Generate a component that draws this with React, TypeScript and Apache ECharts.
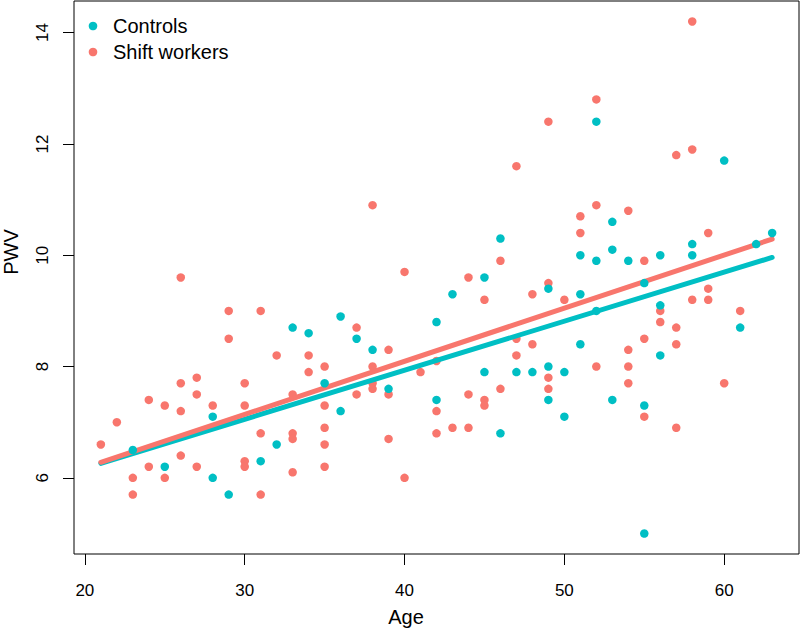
import React, { useEffect, useRef } from "react";
import * as echarts from "echarts";

const controlAge = [23, 25, 28, 28, 29, 31, 32, 33, 34, 35, 36, 36, 37, 38, 39, 42, 42, 43, 45, 45, 46, 46, 47, 48, 49, 49, 49, 50, 50, 51, 51, 51, 52, 52, 52, 53, 53, 53, 54, 55, 55, 55, 56, 56, 56, 58, 58, 60, 61, 62, 63];
const controlPwv = [6.5, 6.2, 7.1, 6.0, 5.7, 6.3, 6.6, 8.7, 8.6, 7.7, 8.9, 7.2, 8.5, 8.3, 7.6, 8.8, 7.4, 9.3, 9.6, 7.9, 10.3, 6.8, 7.9, 7.9, 9.4, 8.0, 7.4, 7.9, 7.1, 10.0, 9.3, 8.4, 12.4, 9.9, 9.0, 10.6, 10.1, 7.4, 9.9, 9.5, 7.3, 5.0, 10.0, 9.1, 8.2, 10.2, 10.0, 11.7, 8.7, 10.2, 10.4];

const shiftAge = [21, 22, 23, 23, 24, 24, 25, 25, 26, 26, 26, 26, 27, 27, 27, 28, 29, 29, 30, 30, 30, 30, 31, 31, 31, 32, 33, 33, 33, 33, 34, 34, 35, 35, 35, 35, 35, 37, 37, 38, 38, 38, 38, 39, 39, 39, 40, 40, 41, 42, 42, 42, 43, 44, 44, 44, 45, 45, 45, 46, 46, 47, 47, 47, 48, 48, 49, 49, 49, 49, 50, 51, 51, 52, 52, 52, 54, 54, 54, 54, 55, 55, 55, 56, 56, 57, 57, 57, 57, 58, 58, 58, 59, 59, 59, 60, 61];
const shiftPwv = [6.6, 7.0, 6.0, 5.7, 7.4, 6.2, 7.3, 6.0, 9.6, 7.7, 7.2, 6.4, 7.8, 7.5, 6.2, 7.3, 9.0, 8.5, 7.7, 7.3, 6.3, 6.2, 9.0, 6.8, 5.7, 8.2, 7.5, 6.8, 6.7, 6.1, 8.2, 7.9, 8.0, 7.3, 6.9, 6.6, 6.2, 8.7, 7.5, 10.9, 8.0, 7.7, 7.6, 8.3, 7.5, 6.7, 9.7, 6.0, 7.9, 8.1, 7.2, 6.8, 6.9, 9.6, 7.5, 6.9, 9.2, 7.4, 7.3, 9.9, 7.6, 11.6, 8.5, 8.2, 9.3, 8.4, 12.4, 9.5, 7.8, 7.6, 9.2, 10.7, 10.4, 12.8, 10.9, 8.0, 10.8, 8.3, 8.0, 7.7, 9.9, 8.5, 7.1, 9.0, 8.8, 11.8, 8.7, 8.4, 6.9, 14.2, 11.9, 9.2, 10.4, 9.4, 9.2, 7.7, 9.0];

// fitted lines (endpoints)
const fitAge = [21, 63];
const controlFit = [6.26, 9.96];
const shiftFit = [6.28, 10.29];

const xTicks = [20, 30, 40, 50, 60];
const yTicks = [6, 8, 10, 12, 14];

const legendNames = ["Controls", "Shift workers"];

const TEAL = "#00BFC4";
const SALMON = "#F8766D";
const FONT = "'Liberation Sans', Arial, Helvetica, sans-serif";

export default function App() {
  const ref = useRef<HTMLDivElement>(null);
  useEffect(() => {
    if (!ref.current) return;
    const chart = echarts.init(ref.current, null, { renderer: "svg" });
    const ctrl = controlAge.map((a, i) => [a, controlPwv[i]]);
    const shift = shiftAge.map((a, i) => [a, shiftPwv[i]]);
    const legendColors = [TEAL, SALMON];
    const legendGraphics: any[] = [];
    legendNames.forEach((name, i) => {
      legendGraphics.push({
        type: "circle",
        shape: { cx: 93, cy: 26 + i * 26, r: 4.3 },
        style: { fill: legendColors[i] },
      });
      legendGraphics.push({
        type: "text",
        x: 113,
        y: 26 + i * 26,
        style: {
          text: name,
          fontSize: 20,
          fontFamily: FONT,
          fill: "#000",
          textAlign: "left",
          textVerticalAlign: "middle",
        },
      });
    });
    chart.setOption({
      animation: false,
      backgroundColor: "#ffffff",
      textStyle: { fontFamily: FONT },
      grid: {
        left: 74,
        right: 1,
        top: 1,
        bottom: 75,
        show: true,
        borderColor: "#000000",
        borderWidth: 1,
        backgroundColor: "transparent",
      },
      xAxis: {
        type: "value",
        min: 19.32,
        max: 64.68,
        axisLine: { show: false },
        splitLine: { show: false },
        axisTick: {
          show: true,
          length: 11,
          inside: false,
          customValues: xTicks,
          lineStyle: { color: "#000", width: 1 },
        },
        axisLabel: {
          customValues: xTicks,
          fontSize: 17,
          color: "#000",
          margin: 28,
          fontFamily: FONT,
        },
      },
      yAxis: {
        type: "value",
        min: 4.632,
        max: 14.568,
        axisLine: { show: false },
        splitLine: { show: false },
        axisTick: {
          show: true,
          length: 11,
          inside: false,
          customValues: yTicks,
          lineStyle: { color: "#000", width: 1 },
        },
        axisLabel: {
          customValues: yTicks,
          fontSize: 17,
          color: "#000",
          rotate: 90,
          margin: 23,
          fontFamily: FONT,
        },
      },
      graphic: [
        ...legendGraphics,
        {
          type: "text",
          x: 406,
          y: 617,
          style: {
            text: "Age",
            fontSize: 20,
            fontFamily: FONT,
            fill: "#000",
            textAlign: "center",
            textVerticalAlign: "middle",
          },
        },
        {
          type: "text",
          x: 11,
          y: 252,
          rotation: Math.PI / 2,
          style: {
            text: "PWV",
            fontSize: 20,
            fontFamily: FONT,
            fill: "#000",
            textAlign: "center",
            textVerticalAlign: "middle",
          },
        },
      ],
      series: [
        {
          name: "Shift workers",
          type: "scatter",
          data: shift,
          symbol: "circle",
          symbolSize: 8.5,
          itemStyle: { color: SALMON, opacity: 1 },
          z: 1,
        },
        {
          name: "Controls fit",
          type: "line",
          data: fitAge.map((a, i) => [a, controlFit[i]]),
          showSymbol: false,
          symbol: "none",
          lineStyle: { color: TEAL, width: 5, cap: "round" },
          z: 2,
        },
        {
          name: "Shift workers fit",
          type: "line",
          data: fitAge.map((a, i) => [a, shiftFit[i]]),
          showSymbol: false,
          symbol: "none",
          lineStyle: { color: SALMON, width: 5, cap: "round" },
          z: 3,
        },
        {
          name: "Controls",
          type: "scatter",
          data: ctrl,
          symbol: "circle",
          symbolSize: 8.5,
          itemStyle: { color: TEAL, opacity: 1 },
          z: 4,
        },
      ],
    });
    return () => chart.dispose();
  }, []);
  return (
    <div
      ref={ref}
      style={{ position: "absolute", left: 0, top: 0, width: 800, height: 629 }}
    />
  );
}
